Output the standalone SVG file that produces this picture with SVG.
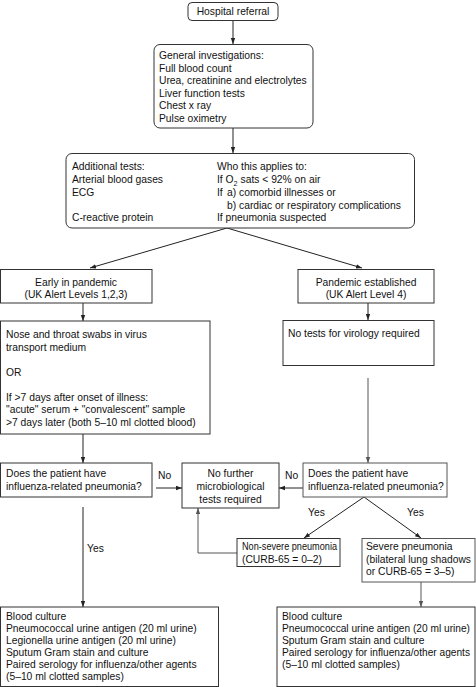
<svg xmlns="http://www.w3.org/2000/svg" width="476" height="687" viewBox="0 0 476 687">
<defs>
<marker id="ah" markerWidth="6" markerHeight="6" refX="6" refY="3" orient="auto" markerUnits="userSpaceOnUse">
<path d="M0,0.8 L6,3 L0,5.2 Z" fill="#222"/>
</marker>
<marker id="ahg" markerWidth="6" markerHeight="6" refX="6" refY="3" orient="auto" markerUnits="userSpaceOnUse">
<path d="M0,0.8 L6,3 L0,5.2 Z" fill="#555"/>
</marker>
<style>
text{font-family:"Liberation Sans",Arial,sans-serif;font-size:10.3px;fill:#111}
.c{text-anchor:middle}
.box{fill:#fff;stroke:#333;stroke-width:1}
.gbox{fill:#fff;stroke:#555;stroke-width:1}
.ln{fill:none;stroke:#222;stroke-width:1}
.gl{fill:none;stroke:#555;stroke-width:1}
.sub{font-size:7.3px}
</style>
</defs>
<rect width="476" height="687" fill="#fff"/>

<g id="connectors">
<line class="ln" x1="233" y1="20" x2="233" y2="44" marker-end="url(#ah)"/>
<line class="ln" x1="233" y1="128" x2="233" y2="153" marker-end="url(#ah)"/>
<line class="ln" x1="227" y1="228" x2="90" y2="268" marker-end="url(#ah)"/>
<line class="ln" x1="227" y1="228" x2="362" y2="268" marker-end="url(#ah)"/>
<line class="ln" x1="83" y1="303" x2="83" y2="321" marker-end="url(#ah)"/>
<line class="ln" x1="368" y1="303" x2="368" y2="320" marker-end="url(#ah)"/>
<line class="ln" x1="83" y1="434" x2="83" y2="463" marker-end="url(#ah)"/>
<line class="gl" x1="368" y1="378" x2="368" y2="463" marker-end="url(#ahg)"/>
<line class="ln" x1="156" y1="488" x2="182" y2="488" marker-end="url(#ah)"/>
<line class="ln" x1="303" y1="488" x2="279" y2="488" marker-end="url(#ah)"/>
<line class="ln" x1="364" y1="497" x2="304" y2="538" marker-end="url(#ah)"/>
<line class="ln" x1="364" y1="497" x2="421" y2="538" marker-end="url(#ah)"/>
<polyline class="gl" points="237,553 198,553 198,508" marker-end="url(#ahg)"/>
<line class="ln" x1="83" y1="507" x2="83" y2="607" marker-end="url(#ah)"/>
<line class="gl" x1="421" y1="582" x2="421" y2="607" marker-end="url(#ahg)"/>
<text x="158" y="479">No</text>
<text x="285" y="479">No</text>
<text x="308" y="516">Yes</text>
<text x="407" y="516">Yes</text>
<text x="87" y="552">Yes</text>
</g>

<g id="hospital-referral">
<rect class="box" x="188" y="2.5" width="90" height="18" rx="4"/>
<text class="c" x="233" y="15">Hospital referral</text>
</g>

<g id="general-investigations">
<rect class="box" x="154" y="44.5" width="159" height="83.5" rx="6"/>
<text x="159" y="59">General investigations:</text>
<text x="159" y="71.5">Full blood count</text>
<text x="159" y="84">Urea, creatinine and electrolytes</text>
<text x="159" y="96.5">Liver function tests</text>
<text x="159" y="109">Chest x ray</text>
<text x="159" y="121.5">Pulse oximetry</text>
</g>

<g id="additional-tests">
<rect class="box" x="66" y="153.5" width="348.5" height="74.5" rx="6"/>
<text x="72" y="170">Additional tests:</text>
<text x="72" y="183">Arterial blood gases</text>
<text x="72" y="196">ECG</text>
<text x="72" y="221">C-reactive protein</text>
<text x="217" y="170">Who this applies to:</text>
<text x="217" y="183">If O<tspan class="sub" dy="2.5">2</tspan><tspan dy="-2.5"> sats &lt; 92% on air</tspan></text>
<text x="217" y="196">If</text>
<text x="227" y="196">a) comorbid illnesses or</text>
<text x="227" y="208.5">b) cardiac or respiratory complications</text>
<text x="217" y="221">If pneumonia suspected</text>
</g>

<g id="early-pandemic">
<rect class="box" x="0.5" y="269.5" width="151.5" height="33.5"/>
<text class="c" x="76" y="285.5">Early in pandemic</text>
<text class="c" x="76" y="298">(UK Alert Levels 1,2,3)</text>
</g>

<g id="pandemic-established">
<rect class="box" x="298" y="269.5" width="136" height="33.5"/>
<text class="c" x="366" y="285.5">Pandemic established</text>
<text class="c" x="366" y="298">(UK Alert Level 4)</text>
</g>

<g id="swabs">
<rect class="box" x="0.5" y="321" width="209.5" height="113"/>
<text x="6" y="338">Nose and throat swabs in virus</text>
<text x="6" y="350.5">transport medium</text>
<text x="6" y="375.5">OR</text>
<text x="6" y="400.5">If &gt;7 days after onset of illness:</text>
<text x="6" y="413">"acute" serum + "convalescent" sample</text>
<text x="6" y="425.5">&gt;7 days later (both 5–10 ml clotted blood)</text>
</g>

<g id="no-virology">
<rect class="box" x="283" y="320.5" width="151" height="45"/>
<text x="288" y="337">No tests for virology required</text>
</g>

<g id="pneumonia-question-left">
<rect class="box" x="0.5" y="463" width="151.5" height="34"/>
<text x="6" y="477">Does the patient have</text>
<text x="6" y="490">influenza-related pneumonia?</text>
</g>

<g id="no-further-tests">
<rect class="box" x="182" y="463" width="97" height="45"/>
<text class="c" x="230.5" y="477">No further</text>
<text class="c" x="230.5" y="490">microbiological</text>
<text class="c" x="230.5" y="503">tests required</text>
</g>

<g id="pneumonia-question-right">
<rect class="gbox" x="303" y="463" width="144" height="34"/>
<text x="308" y="477">Does the patient have</text>
<text x="308" y="490">influenza-related pneumonia?</text>
</g>

<g id="non-severe">
<rect class="box" x="237" y="538.5" width="103" height="28"/>
<text x="242" y="550" textLength="95" lengthAdjust="spacingAndGlyphs">Non-severe pneumonia</text>
<text x="242" y="562.5">(CURB-65 = 0–2)</text>
</g>

<g id="severe">
<rect class="gbox" x="362" y="538.5" width="113" height="43.5"/>
<text x="366" y="550">Severe pneumonia</text>
<text x="366" y="562.5" textLength="105" lengthAdjust="spacingAndGlyphs">(bilateral lung shadows</text>
<text x="366" y="575">or CURB-65 = 3–5)</text>
</g>

<g id="tests-left">
<rect class="box" x="0.5" y="607" width="218" height="79.5"/>
<text x="6" y="620">Blood culture</text>
<text x="6" y="632">Pneumococcal urine antigen (20 ml urine)</text>
<text x="6" y="644">Legionella urine antigen (20 ml urine)</text>
<text x="6" y="656">Sputum Gram stain and culture</text>
<text x="6" y="668">Paired serology for influenza/other agents</text>
<text x="6" y="680">(5–10 ml clotted samples)</text>
</g>

<g id="tests-right">
<rect class="box" x="277" y="607" width="198" height="79.5"/>
<text x="282" y="620">Blood culture</text>
<text x="282" y="632" textLength="188" lengthAdjust="spacingAndGlyphs">Pneumococcal urine antigen (20 ml urine)</text>
<text x="282" y="644">Sputum Gram stain and culture</text>
<text x="282" y="656" textLength="188" lengthAdjust="spacingAndGlyphs">Paired serology for influenza/other agents</text>
<text x="282" y="668">(5–10 ml clotted samples)</text>
</g>
</svg>
